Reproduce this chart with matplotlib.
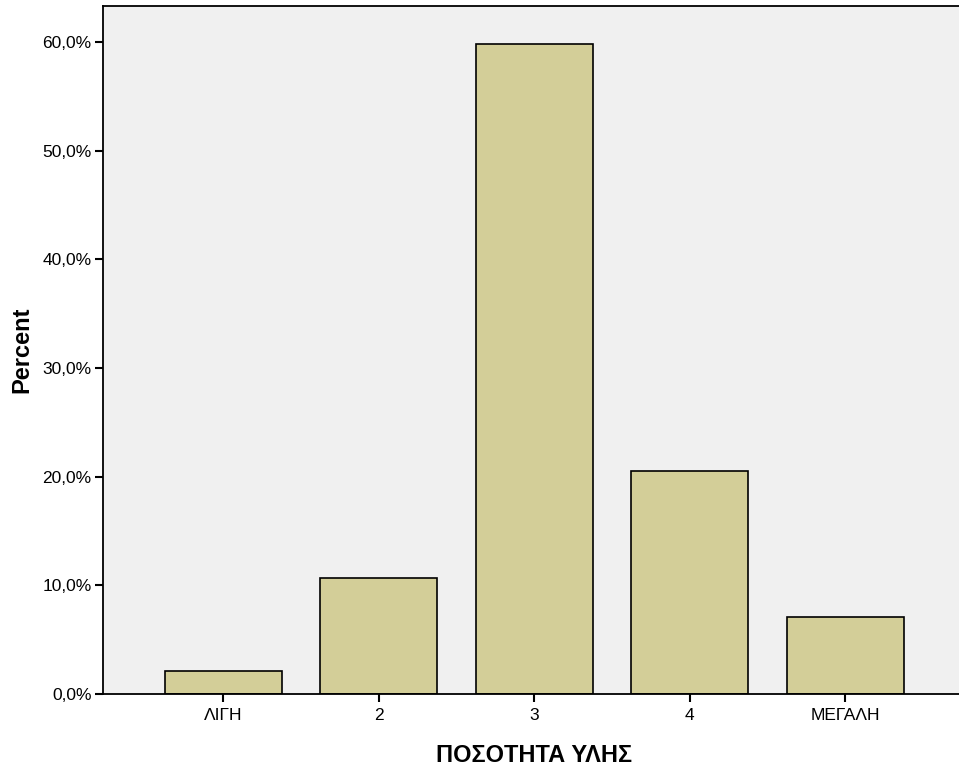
import matplotlib
matplotlib.use("Agg")
import matplotlib.pyplot as plt
from matplotlib.ticker import FuncFormatter

categories = ["ΛΙΓΗ", "2", "3", "4", "ΜΕΓΑΛΗ"]
percent = [2.1, 10.7, 59.8, 20.5, 7.1]
yticks = [0, 10, 20, 30, 40, 50, 60]

plt.rcParams['font.family'] = ['Liberation Sans', 'DejaVu Sans']

fig = plt.figure(figsize=(9.59, 7.71), dpi=100)
ax = fig.add_axes([102.5/959, 1 - 694/771, 1 - 102.5/959, (694 - 6)/771])
ax.set_facecolor('#F0F0F0')
x = list(range(len(categories)))
ax.bar(x, percent, width=0.752, color='#D3CE98', edgecolor='black', linewidth=1.2, zorder=2)
ax.set_xlim(-0.778, 4.733)
ax.set_ylim(0, 63.3)
ax.set_xticks(x)
ax.set_xticklabels(categories, fontsize=12.5)
ax.set_yticks(yticks)
ax.yaxis.set_major_formatter(FuncFormatter(lambda v, p: f"{v:.1f}".replace('.', ',') + "%"))
ax.tick_params(axis='y', labelsize=12.5, direction='out', length=6, width=1.5, pad=2)
ax.tick_params(axis='x', labelsize=12.5, direction='out', length=6, width=1.5, pad=4)
for s in ['left', 'bottom', 'top']:
    ax.spines[s].set_linewidth(1.3)
ax.spines['right'].set_visible(False)
ax.set_xlabel("ΠΟΣΟΤΗΤΑ ΥΛΗΣ", fontsize=17, fontweight='bold')
ax.set_ylabel("Percent", fontsize=17, fontweight='bold')
ax.yaxis.label.set_va('center')
ax.xaxis.label.set_va('center')
ax.yaxis.set_label_coords(-(102.5-22)/(959-102.5), (694-350)/688)
ax.xaxis.set_label_coords((534-102.5)/(959-102.5), -(755-694)/688)
fig.savefig("out.png", dpi=100)
